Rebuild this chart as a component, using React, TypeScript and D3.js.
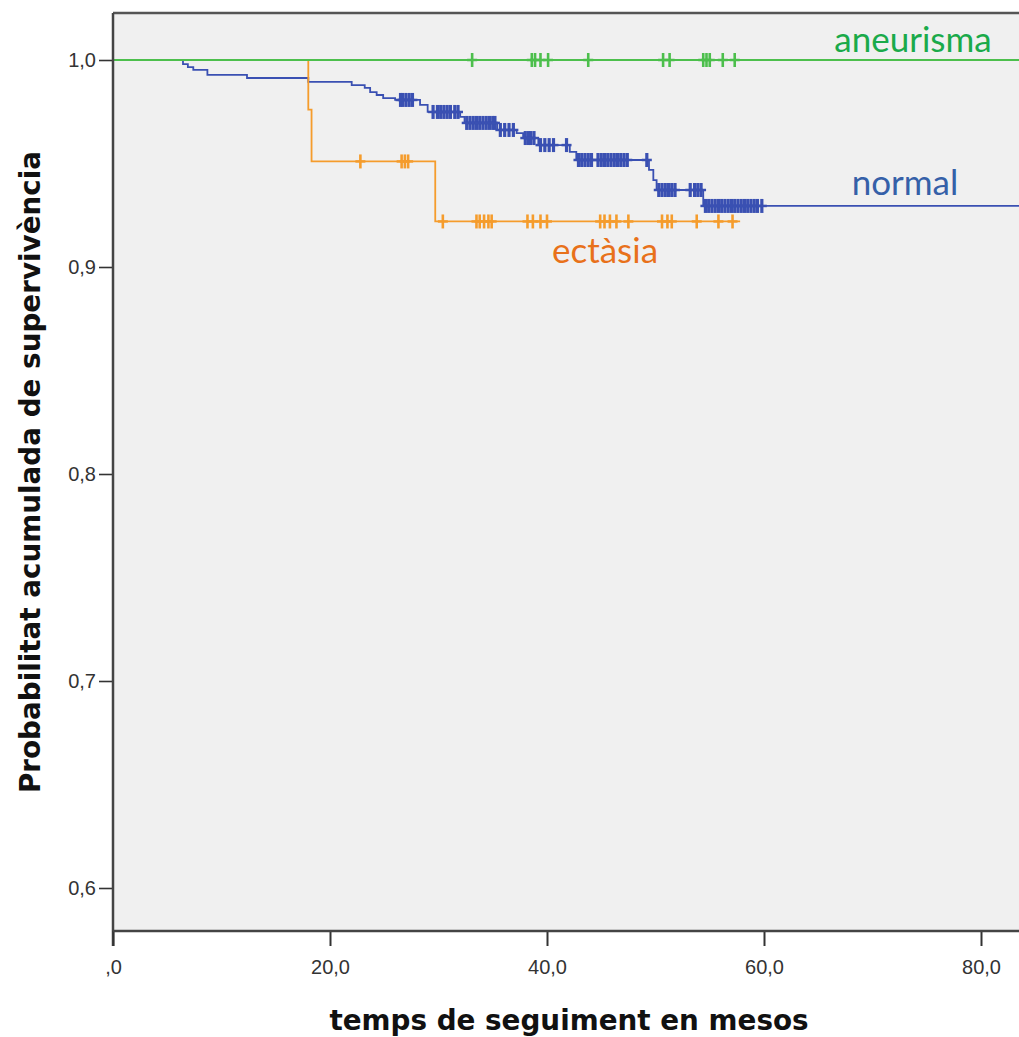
import React, { useRef, useEffect } from "react";
import * as d3 from "d3";

// Kaplan-Meier: supervivència segons diàmetre aòrtic
// events: [mesos, supervivència després de l'esdeveniment]
const normalEvents: [number, number][] = [
  [6.45, 0.998], [6.9, 0.9966], [7.4, 0.9952], [8.7, 0.9928], [12.35, 0.9913],
  [18.0, 0.9894], [22.0, 0.9879], [23.2, 0.9865], [23.7, 0.9845], [24.3, 0.9831],
  [24.9, 0.9816], [26.0, 0.9807], [28.3, 0.9783], [29.0, 0.9749], [32.0, 0.9725],
  [32.4, 0.9696], [35.4, 0.9662], [37.2, 0.9647], [37.8, 0.9623], [39.2, 0.9589],
  [42.1, 0.9556], [42.7, 0.9517], [49.4, 0.9469], [49.8, 0.942], [50.1, 0.9372],
  [54.4, 0.9295],
];
const normalCensored = [
  26.5, 26.7, 27.0, 27.3, 27.6,
  29.5, 29.9, 30.2, 30.5, 30.8, 31.1, 31.5, 31.8,
  32.6, 32.9, 33.2, 33.5, 33.8, 34.1, 34.4, 34.7, 35.0, 35.2,
  35.7, 36.1, 36.5, 36.9,
  38.0, 38.3, 38.5, 38.8,
  39.4, 39.8, 40.2, 40.6, 41.8,
  42.9, 43.2, 43.5, 43.8, 44.1,
  44.7, 45.0, 45.3, 45.6, 45.9, 46.2, 46.5, 46.8, 47.1, 47.4, 49.2,
  50.3, 50.6, 50.9, 51.2, 51.5, 51.8,
  53.2, 53.6, 53.9, 54.2,
  54.6, 54.9, 55.2, 55.5, 55.8, 56.1, 56.4, 56.7, 57.0, 57.3, 57.6, 57.9,
  58.2, 58.5, 58.8, 59.1, 59.4, 59.8,
];

const ectasiaEvents: [number, number][] = [
  [18.0, 0.976], [18.3, 0.951], [29.7, 0.922],
];
const ectasiaCensored = [
  22.8, 26.6, 26.9, 27.2,
  30.4, 33.5, 33.8, 34.2, 34.6, 34.9, 38.2, 38.7, 39.4, 40.0,
  44.9, 45.3, 45.8, 46.4, 47.5, 50.6, 51.1, 51.5, 53.8, 55.8, 57.1,
];
const ectasiaEnd = 57.8;

const aneurismaEvents: [number, number][] = [];
const aneurismaCensored = [
  33.1, 38.6, 38.9, 39.4, 40.1, 43.8, 50.7, 51.3, 54.4, 54.7, 55.0, 56.2, 57.3,
];

const xTicks = [0, 20, 40, 60, 80];
const yTicks = [0.6, 0.7, 0.8, 0.9, 1.0];

const fmt = (v: number) => (v === 0 ? ",0" : v.toFixed(1).replace(".", ","));

const App = () => {
  const ref = useRef<SVGSVGElement>(null);

  useEffect(() => {
    const svg = d3.select(ref.current);
    svg.selectAll("*").remove();

    const W = 1019;
    const left = 113;
    const top = 13;
    const bottom = 931;
    const xMax = 85;

    const x = d3.scaleLinear().domain([0, xMax]).range([left, left + xMax * 10.85]);
    const y = d3.scaleLinear().domain([0.6, 1.0]).range([888, 60]);

    // plot background
    svg
      .append("rect")
      .attr("x", left)
      .attr("y", top)
      .attr("width", W - left)
      .attr("height", bottom - top)
      .attr("fill", "#f0f0f0");

    const line = d3
      .line<[number, number]>()
      .x((d) => x(d[0]))
      .y((d) => y(d[1]))
      .curve(d3.curveStepAfter);

    const survAt = (events: [number, number][], t: number) => {
      let s = 1;
      for (const [et, es] of events) if (et <= t) s = es;
      return s;
    };

    const drawSeries = (
      events: [number, number][],
      censored: number[],
      end: number,
      color: string,
      tickW: number
    ) => {
      const pts: [number, number][] = [[0, 1], ...events];
      pts.push([end, survAt(events, end)]);
      svg
        .append("path")
        .datum(pts)
        .attr("d", line)
        .attr("fill", "none")
        .attr("stroke", color)
        .attr("stroke-width", 1.8);

      // censored "+" marks
      const g = svg.append("g");
      g.selectAll(".v")
        .data(censored)
        .enter()
        .append("line")
        .attr("x1", (d) => x(d))
        .attr("x2", (d) => x(d))
        .attr("y1", (d) => y(survAt(events, d)) - 7)
        .attr("y2", (d) => y(survAt(events, d)) + 7)
        .attr("stroke", color)
        .attr("stroke-width", tickW);
      g.selectAll(".h")
        .data(censored)
        .enter()
        .append("line")
        .attr("x1", (d) => x(d) - 5)
        .attr("x2", (d) => x(d) + 5)
        .attr("y1", (d) => y(survAt(events, d)))
        .attr("y2", (d) => y(survAt(events, d)))
        .attr("stroke", color)
        .attr("stroke-width", 2.5);
    };

    drawSeries(normalEvents, normalCensored, xMax, "#3a50b2", 3.2);
    drawSeries(ectasiaEvents, ectasiaCensored, ectasiaEnd, "#f59c2c", 2.6);
    drawSeries(aneurismaEvents, aneurismaCensored, xMax, "#4cbf4c", 2.6);

    // frame top
    svg
      .append("line")
      .attr("x1", left)
      .attr("x2", W)
      .attr("y1", top)
      .attr("y2", top)
      .attr("stroke", "#555")
      .attr("stroke-width", 2.5);

    // y axis
    const yAxis = svg
      .append("g")
      .attr("transform", `translate(${left},0)`)
      .call(d3.axisLeft(y).tickValues(yTicks).tickSize(14).tickPadding(3).tickFormat((d) => fmt(+d)));
    yAxis.select(".domain").remove();
    yAxis.selectAll("line").attr("stroke", "#333").attr("stroke-width", 1.6);
    yAxis
      .selectAll("text")
      .style("font-family", "'Liberation Sans', Arial, sans-serif")
      .style("font-size", "20px")
      .attr("fill", "#333");
    svg
      .append("line")
      .attr("x1", left)
      .attr("x2", left)
      .attr("y1", top)
      .attr("y2", bottom + 15)
      .attr("stroke", "#444")
      .attr("stroke-width", 2.5);

    // x axis
    const xAxis = svg
      .append("g")
      .attr("transform", `translate(0,${bottom})`)
      .call(d3.axisBottom(x).tickValues(xTicks).tickSize(15).tickPadding(14).tickFormat((d) => fmt(+d)));
    xAxis.select(".domain").remove();
    xAxis.selectAll("line").attr("stroke", "#333").attr("stroke-width", 2);
    xAxis
      .selectAll("text")
      .style("font-family", "'Liberation Sans', Arial, sans-serif")
      .style("font-size", "20px")
      .attr("fill", "#333");
    svg
      .append("line")
      .attr("x1", left)
      .attr("x2", W)
      .attr("y1", bottom)
      .attr("y2", bottom)
      .attr("stroke", "#444")
      .attr("stroke-width", 2.5);

    // axis titles
    svg
      .append("text")
      .attr("x", 569)
      .attr("y", 1030)
      .attr("text-anchor", "middle")
      .style("font-family", "'DejaVu Sans', Verdana, sans-serif")
      .style("font-weight", "bold")
      .style("font-size", "27.8px")
      .attr("fill", "#111")
      .text("temps de seguiment en mesos");

    svg
      .append("text")
      .attr("transform", `translate(40,472) rotate(-90)`)
      .attr("text-anchor", "middle")
      .style("font-family", "'DejaVu Sans', Verdana, sans-serif")
      .style("font-weight", "bold")
      .style("font-size", "27.8px")
      .attr("fill", "#111")
      .text("Probabilitat acumulada de supervivència");

    // series labels
    const labels = [
      { text: "aneurisma", x: 913, y: 52, color: "#1aaa4a" },
      { text: "normal", x: 905, y: 195, color: "#3560a8" },
      { text: "ectàsia", x: 605, y: 263, color: "#e8711a" },
    ];
    svg
      .append("g")
      .selectAll("text")
      .data(labels)
      .enter()
      .append("text")
      .attr("x", (d) => d.x)
      .attr("y", (d) => d.y)
      .attr("text-anchor", "middle")
      .style("font-family", "Lato, 'Open Sans', sans-serif")
      .style("font-size", "35px")
      .attr("fill", (d) => d.color)
      .text((d) => d.text);
  }, []);

  return (
    <svg
      ref={ref}
      width={1019}
      height={1037}
      style={{ position: "absolute", left: 0, top: 0, background: "#fff" }}
    />
  );
};

export default App;
